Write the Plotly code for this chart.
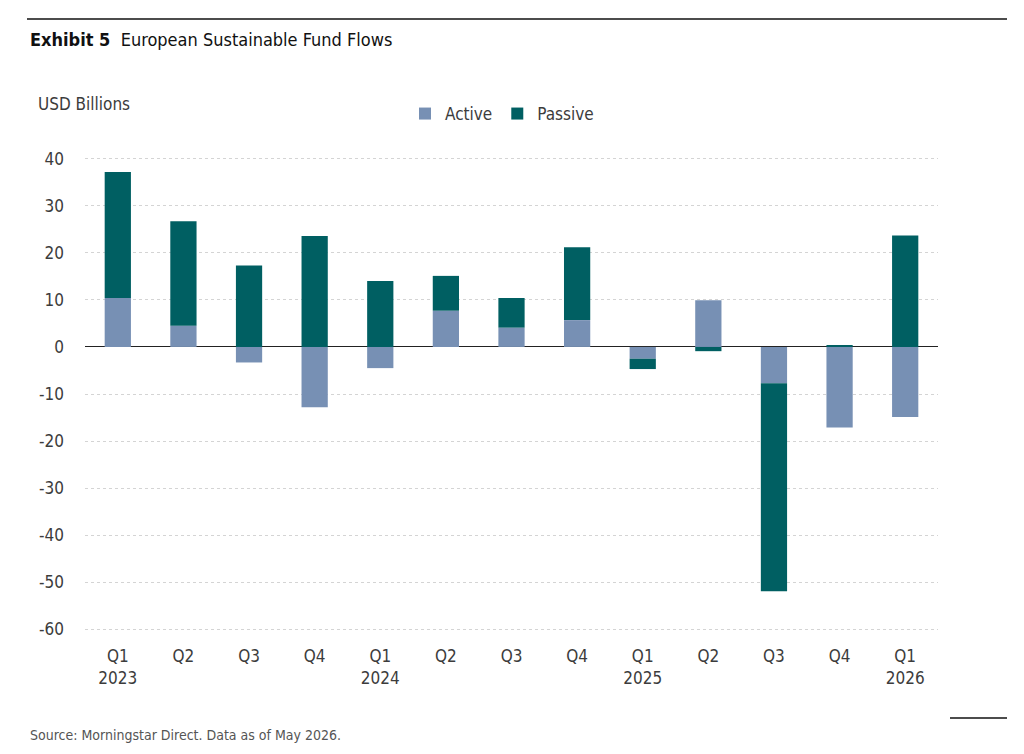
import plotly.graph_objects as go

quarters = ["Q1", "Q2", "Q3", "Q4", "Q1", "Q2", "Q3", "Q4", "Q1", "Q2", "Q3", "Q4", "Q1"]
years = ["2023", "", "", "", "2024", "", "", "", "2025", "", "", "", "2026"]
active = [10.4, 4.5, -3.3, -12.8, -4.5, 7.7, 4.1, 5.7, -2.5, 9.9, -7.7, -17.1, -14.9]
passive = [26.8, 22.2, 17.3, 23.6, 14.0, 7.4, 6.3, 15.5, -2.2, -0.9, -44.2, 0.3, 23.7]
y_ticks = [40, 30, 20, 10, 0, -10, -20, -30, -40, -50, -60]
y_labels = ["40", "30", "20", "10", "0", "-10", "-20", "-30", "-40", "-50", "-60"]

FONT = "Liberation Sans Narrow, DejaVu Sans Condensed, Arial Narrow, sans-serif"
ACTIVE_C = "#7790b4"
PASSIVE_C = "#005f62"
TXT = "#3c3c3c"

W, H = 1024, 754
l, r, t, b = 85, 86, 154, 120
pw, ph = W - l - r, H - t - b
def px(x):
    return (x - l) / pw
def py(y):
    return (H - b - y) / ph

xs = list(range(len(quarters)))
ticktext = [q + ("<br>" + y if y else "") for q, y in zip(quarters, years)]

fig = go.Figure()
fig.add_trace(go.Bar(x=xs, y=active, name="Active", marker=dict(color=ACTIVE_C, line_width=0), width=0.4))
fig.add_trace(go.Bar(x=xs, y=passive, name="Passive", marker=dict(color=PASSIVE_C, line_width=0), width=0.4))

fig.update_layout(
    width=W, height=H,
    barmode="relative",
    paper_bgcolor="white", plot_bgcolor="white",
    margin=dict(l=l, r=r, t=t, b=b),
    font=dict(family=FONT, size=17, color=TXT),
    showlegend=True,
    legend=dict(orientation="h", x=px(405), xanchor="left", y=py(114), yanchor="middle",
                font=dict(size=17, color=TXT), itemwidth=30, traceorder="normal",
                bgcolor="rgba(0,0,0,0)"),
    xaxis=dict(tickmode="array", tickvals=xs, ticktext=ticktext, range=[-0.5, len(xs) - 0.5],
               showgrid=False, zeroline=False, showline=False, ticks="",
               ticklabelstandoff=10,
               tickfont=dict(size=17, color=TXT)),
    yaxis=dict(range=[-61, 41], tickmode="array", tickvals=y_ticks, ticktext=y_labels, showgrid=True,
               gridcolor="#d4d4d4", griddash="dot", gridwidth=1,
               zeroline=True, zerolinecolor="#222222", zerolinewidth=1.3,
               ticklabelstandoff=20,
               showline=False, ticks="", tickfont=dict(size=17, color=TXT)),
    annotations=[
        dict(text="<b>Exhibit 5</b>  European Sustainable Fund Flows", x=px(28), y=py(40), xref="paper", yref="paper",
             showarrow=False, xanchor="left", yanchor="middle", font=dict(size=18, color="#111111")),
        dict(text="USD Billions", x=px(36), y=py(104), xref="paper", yref="paper", showarrow=False,
             xanchor="left", yanchor="middle", font=dict(size=17, color=TXT)),
        dict(text="Source: Morningstar Direct. Data as of May 2026.", x=px(28), y=py(735), xref="paper", yref="paper",
             showarrow=False, xanchor="left", yanchor="middle", font=dict(size=14, color="#555555")),
    ],
    shapes=[
        dict(type="line", xref="paper", yref="paper", x0=px(27), x1=px(1007), y0=py(19), y1=py(19),
             line=dict(color="#111111", width=1.5)),
        dict(type="line", xref="paper", yref="paper", x0=px(950), x1=px(1007), y0=py(718), y1=py(718),
             line=dict(color="#111111", width=1.5)),
    ],
)

fig.write_html("out.html")
